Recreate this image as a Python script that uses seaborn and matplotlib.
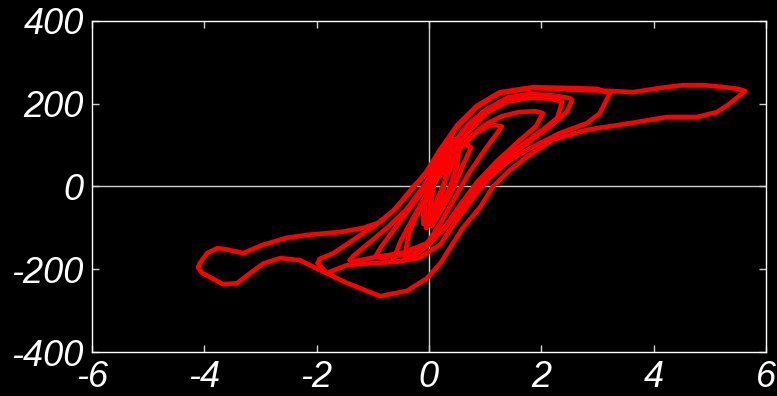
import matplotlib
matplotlib.use("Agg")
import matplotlib.pyplot as plt
import pandas as pd
import seaborn as sns

# Force-displacement hysteresis cycles, traced clockwise from the negative tip:
# lower (loading) branch to the positive tip, then upper (unloading) branch back.
blob_a_x = [-0.05, 0.1, 0.25, 0.35, 0.3, 0.15, 0.0, -0.08, -0.05]
blob_a_y = [-100, -70, -10, 60, 95, 70, 20, -40, -100]

blob_b_x = [0.0, 0.15, 0.35, 0.5, 0.55, 0.4, 0.2, 0.08, 0.0]
blob_b_y = [-80, -60, -10, 50, 110, 115, 70, 0, -80]

cycle0_x = [0.05, 0.15, 0.3, 0.45, 0.4, 0.25, 0.1, 0.0, 0.05]
cycle0_y = [-60, -30, 20, 60, 70, 50, 10, -30, -60]

cycle1_x = [-0.1, 0.05, 0.25, 0.45, 0.6, 0.75, 0.6, 0.35, 0.15, 0.0, -0.1, -0.1]
cycle1_y = [-90, -95, -50, 0, 50, 95, 105, 80, 40, 0, -50, -90]

cycle2_x = [-0.43, -0.3, -0.05, 0.2, 0.45, 0.7, 1.0, 1.3, 1.1, 0.85, 0.6, 0.35, 0.1, -0.15, -0.35, -0.43]
cycle2_y = [-166, -168, -140, -90, -30, 30, 90, 145, 150, 130, 100, 55, 10, -50, -110, -166]

cycle3_x = [-0.64, -0.55, -0.3, 0.0, 0.3, 0.55, 0.85, 1.2, 1.6, 1.9, 2.03,
            1.9, 1.6, 1.3, 1.0, 0.7, 0.45, 0.2, -0.05, -0.3, -0.5, -0.64]
cycle3_y = [-178, -182, -170, -140, -95, -45, 10, 60, 110, 145, 177,
            182, 180, 170, 150, 115, 75, 30, -20, -80, -130, -178]

cycle4_x = [-0.95, -0.85, -0.5, -0.1, 0.25, 0.55, 0.85, 1.2, 1.6, 2.0, 2.28, 2.37,
            2.2, 1.8, 1.4, 1.05, 0.75, 0.5, 0.25, 0.0, -0.3, -0.6, -0.85, -0.95]
cycle4_y = [-168, -172, -165, -145, -105, -55, 0, 50, 95, 135, 165, 204,
            212, 214, 205, 180, 140, 100, 55, 10, -45, -100, -145, -168]

cycle5_x = [-1.41, -1.3, -0.93, -0.46, -0.04, 0.3, 0.6, 0.9, 1.3, 1.8, 2.2, 2.45, 2.55,
            2.5, 2.2, 1.8, 1.4, 1.0, 0.7, 0.4, 0.15, -0.1, -0.4, -0.75, -1.1, -1.35, -1.41]
cycle5_y = [-178, -180, -170, -160, -137, -95, -40, 10, 60, 110, 150, 180, 209,
            214, 220, 224, 215, 185, 150, 100, 50, 0, -55, -100, -140, -168, -178]

cycle6_x = [-1.98, -1.82, -1.46, -1.0, -0.57, -0.16, 0.2, 0.5, 0.85, 1.09, 1.44, 1.85,
            2.33, 2.81, 3.04, 3.22, 3.0, 2.5, 1.85, 1.26, 0.85, 0.5, 0.2, -0.05,
            -0.35, -0.65, -1.0, -1.35, -1.7, -1.95, -1.98]
cycle6_y = [-185, -209, -190, -185, -182, -172, -140, -80, -16, 23, 64, 96,
            129, 153, 177, 225, 236, 238, 240, 228, 195, 148, 90, 35,
            -15, -60, -98, -129, -161, -175, -185]

cycle7_x = [-4.11, -4.05, -3.9, -3.67, -3.42, -3.19, -2.95, -2.65, -2.3, -1.94, -1.46,
            -0.87, -0.39, -0.04, 0.2, 0.6, 0.91, 1.14, 1.44, 1.74, 2.2, 2.81, 3.58,
            4.24, 4.77, 5.13, 5.36, 5.63, 5.5, 5.2, 4.88, 4.52, 4.11, 3.63, 3.22,
            2.56, 1.85, 1.26, 0.85, 0.5, 0.25, 0.02, -0.28, -0.57, -0.87, -1.17,
            -1.58, -2.17, -2.53, -2.96, -3.31, -3.6, -3.77, -3.95, -4.08, -4.11]
cycle7_y = [-195, -208, -219, -236, -234, -210, -186, -173, -178, -202, -233,
            -265, -252, -222, -186, -100, -50, 0, 40, 71, 113, 137, 153,
            168, 168, 180, 201, 231, 236, 241, 245, 245, 238, 228, 231,
            234, 238, 226, 192, 144, 95, 40, 0, -50, -86, -100,
            -110, -117, -124, -141, -161, -152, -149, -161, -185, -195]

cycles = [
    (blob_a_x, blob_a_y), (blob_b_x, blob_b_y),
    (cycle0_x, cycle0_y), (cycle1_x, cycle1_y), (cycle2_x, cycle2_y),
    (cycle3_x, cycle3_y), (cycle4_x, cycle4_y), (cycle5_x, cycle5_y),
    (cycle6_x, cycle6_y), (cycle7_x, cycle7_y),
]

x_ticks = [-6, -4, -2, 0, 2, 4, 6]
y_ticks = [-400, -200, 0, 200, 400]

frames = []
for i, (cx, cy) in enumerate(cycles):
    frames.append(pd.DataFrame({"disp": cx, "force": cy, "cycle": i}))
df = pd.concat(frames, ignore_index=True)

sns.set_theme(style="white")
plt.rcParams["font.family"] = ["Liberation Sans", "DejaVu Sans"]

fig = plt.figure(figsize=(7.77, 3.96), dpi=100, facecolor="black")
ax = fig.add_axes([0.1184, 0.1111, 0.8674, 0.8359])
ax.set_facecolor("black")

# zero lines
ax.axhline(0, color="#d0d0d0", lw=1.0, zorder=1)
ax.axvline(0, color="#d0d0d0", lw=1.0, zorder=1)

sns.lineplot(data=df, x="disp", y="force", units="cycle", estimator=None,
             sort=False, color="#ff0000", linewidth=3.3, ax=ax, zorder=3)
for line in ax.lines[2:]:
    line.set_solid_joinstyle("round")
    line.set_solid_capstyle("round")

ax.set_xlim(-6, 6)
ax.set_ylim(-400, 400)
ax.set_xticks(x_ticks)
ax.set_yticks(y_ticks)
ax.set_xticklabels([str(t) for t in x_ticks])
ax.set_yticklabels([str(t) for t in y_ticks])
ax.set_xlabel("")
ax.set_ylabel("")

for s in ax.spines.values():
    s.set_color("white")
    s.set_linewidth(1.0)
    s.set_visible(True)

ax.tick_params(axis="both", which="both", direction="in", length=5, width=1,
               color="#d0d0d0", top=True, right=True, bottom=True, left=True,
               labelcolor="white", labelsize=26)
ax.tick_params(axis="x", pad=6)
ax.tick_params(axis="y", pad=6)
for lab in ax.get_xticklabels() + ax.get_yticklabels():
    lab.set_fontstyle("italic")

fig.savefig("out.png", dpi=100, facecolor="black")
